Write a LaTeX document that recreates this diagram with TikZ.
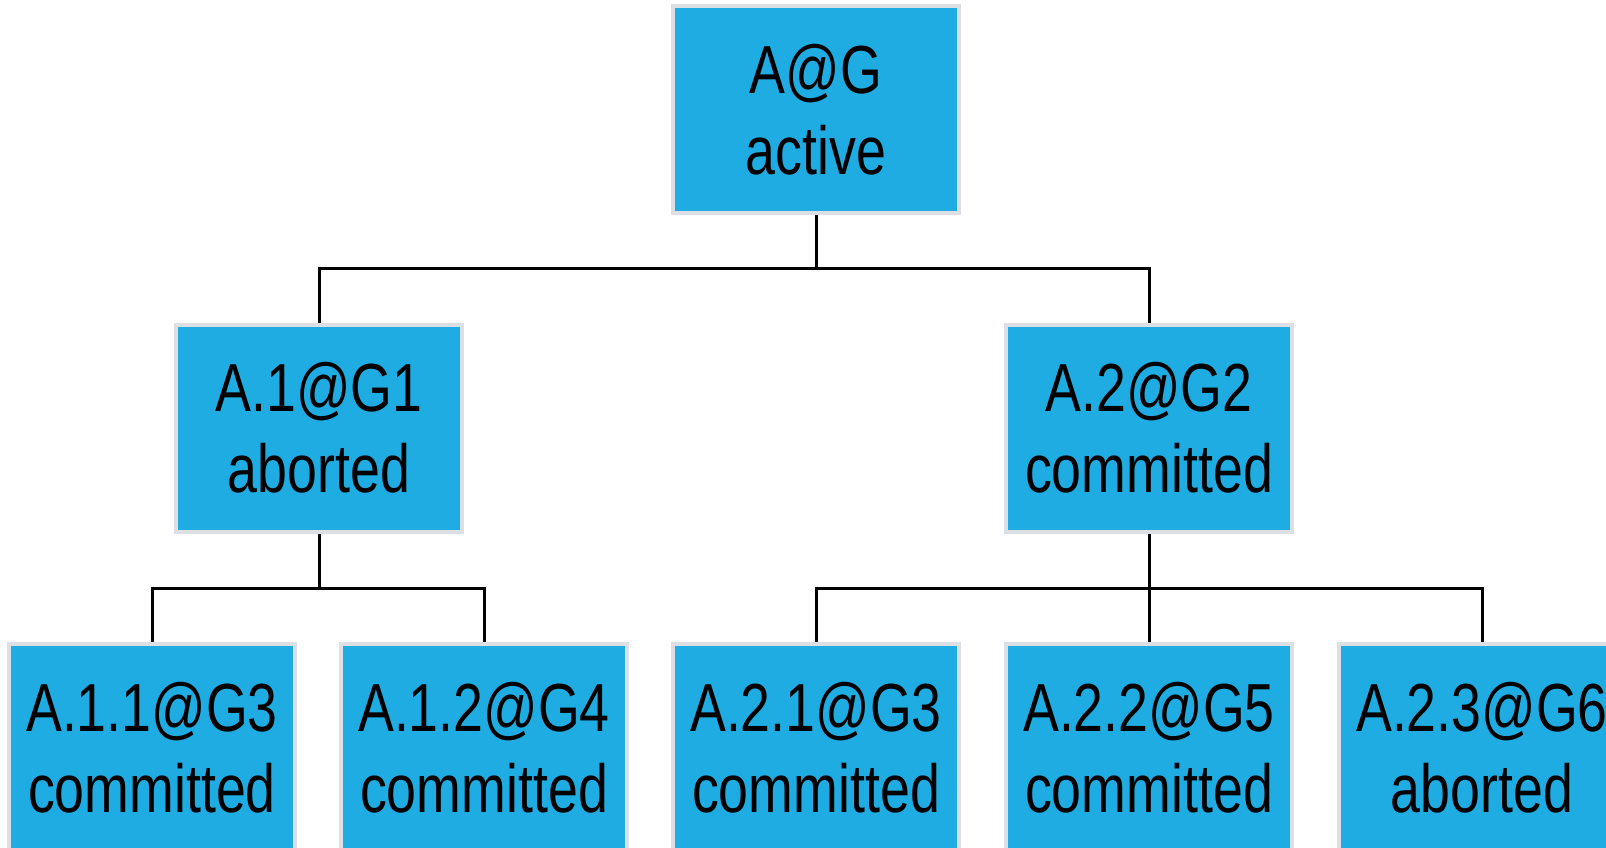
\documentclass[tikz,border=0pt]{standalone}
\usepackage{fontspec}
\setmainfont{Liberation Sans}[FakeStretch=0.79]
\usetikzlibrary{backgrounds}
\definecolor{boxblue}{RGB}{30,172,226}
\definecolor{boxrim}{RGB}{220,224,228}
\tikzset{
  tbox/.style={rectangle, draw=boxrim, line width=4pt, fill=boxblue,
    minimum width=286pt, minimum height=207pt, inner sep=0pt,
    align=center, font=\fontsize{68}{81}\selectfont, text=black},
  link/.style={draw=black, line width=3pt}
}
\begin{document}
\begin{tikzpicture}[x=1pt,y=-1pt]
\useasboundingbox (0,0) rectangle (1606,848);
\node[tbox] (root) at (816,109.5) {A@G\\active};
\node[tbox] (a1) at (319,428) {A.1@G1\\aborted};
\node[tbox] (a2) at (1149,428) {A.2@G2\\committed};
\node[tbox] (a11) at (152,747.5) {A.1.1@G3\\committed};
\node[tbox] (a12) at (484,747.5) {A.1.2@G4\\committed};
\node[tbox] (a21) at (816,747.5) {A.2.1@G3\\committed};
\node[tbox] (a22) at (1149,747.5) {A.2.2@G5\\committed};
\node[tbox] (a23) at (1482,747.5) {A.2.3@G6\\aborted};
\coordinate (j0) at (816,268);
\coordinate (j1) at (319,588);
\coordinate (j2) at (1149,588);
\begin{scope}[on background layer]
\draw[link] (root.south) -- (j0);
\draw[link] (j0) -| (a1.north);
\draw[link] (j0) -| (a2.north);
\draw[link] (a1.south) -- (j1);
\draw[link] (j1) -| (a11.north);
\draw[link] (j1) -| (a12.north);
\draw[link] (a2.south) -- (j2);
\draw[link] (j2) -| (a21.north);
\draw[link] (j2) -- (a22.north);
\draw[link] (j2) -| (a23.north);
\end{scope}
\end{tikzpicture}
\end{document}
